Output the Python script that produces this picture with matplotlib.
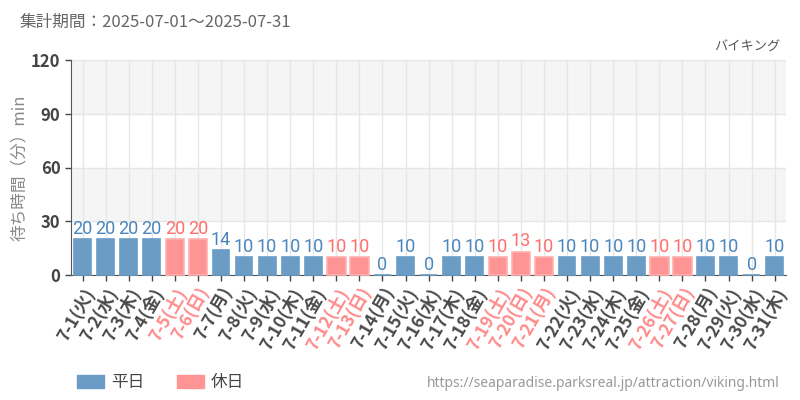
import numpy as np
import matplotlib
matplotlib.use("Agg")
import matplotlib.pyplot as plt
from matplotlib.patches import Patch
from matplotlib import font_manager

plt.rcParams['font.family'] = ['Noto Sans CJK JP', 'DejaVu Sans']

# data
days = ['7-%d' % d for d in range(1, 32)]
weekdays = ['火', '水', '木', '金', '土', '日', '月'] * 5
weekdays = weekdays[:31]
waits = [20, 20, 20, 20, 20, 20, 14, 10, 10, 10, 10, 10, 10, 0, 10, 0,
         10, 10, 10, 13, 10, 10, 10, 10, 10, 10, 10, 10, 10, 0, 10]
holidays = ['7-5', '7-6', '7-12', '7-13', '7-19', '7-20', '7-21', '7-26', '7-27']

blue = '#6a9cc5'
blue_txt = '#4a86bd'
pink = '#ff9494'
pink_txt = '#ff6e6e'

# narrow font for the value labels, if there is one
names = set(f.name for f in font_manager.fontManager.ttflist)
num_font = 'Liberation Sans Narrow' if 'Liberation Sans Narrow' in names else 'Roboto'

fig = plt.figure(figsize=(8, 4), dpi=100)
ax = fig.add_axes([0.08875, 0.3125, 0.894, 0.5375])

x = np.arange(len(days))
is_hol = np.array([d in holidays for d in days])
vals = np.array(waits)

# background bands
for lo, hi in [(30, 60), (90, 120)]:
    ax.axhspan(lo, hi, color='#f5f5f5', zorder=0, lw=0)
ax.set_yticks([0, 30, 60, 90, 120])
ax.grid(True, color='#e6e6e6', lw=1, zorder=1)
ax.set_axisbelow(True)

b1 = ax.bar(x[~is_hol], vals[~is_hol], width=0.73, color=blue,
            edgecolor=blue, lw=1.2, zorder=3, clip_on=False)
b2 = ax.bar(x[is_hol], vals[is_hol], width=0.8, color=pink,
            edgecolor='#ffb0b0', lw=1.2, zorder=3, clip_on=False)
ax.bar_label(b1, padding=1, color=blue_txt, fontsize=13, family=num_font)
ax.bar_label(b2, padding=1, color=pink_txt, fontsize=13, family=num_font)

ax.set_xlim(-0.5, len(days) - 0.5)
ax.set_ylim(0, 120)
ax.set_xticks(x)
labels = ['%s(%s)' % (d, w) for d, w in zip(days, weekdays)]
ax.set_xticklabels(labels, rotation=60, ha='right', rotation_mode='anchor',
                   fontsize=12.5, fontweight='bold')
for lab, h in zip(ax.get_xticklabels(), is_hol):
    lab.set_color('#ff8a8a' if h else '#4a4a4a')
for lab in ax.get_yticklabels():
    lab.set_fontsize(12)
    lab.set_fontweight('bold')
    lab.set_color('#444444')
ax.tick_params(axis='both', length=4, color='#444444', width=1)
ax.tick_params(axis='x', pad=3)

for s in ['top', 'right']:
    ax.spines[s].set_visible(False)
ax.spines['left'].set_color('#555555')
ax.spines['bottom'].set_color('#555555')

ax.set_ylabel('待ち時間（分）min', color='#888888', fontsize=12, labelpad=2)

fig.text(0.025, 0.945, '集計期間：2025-07-01～2025-07-31', color='#666666',
         fontsize=12, va='center')
fig.text(0.975, 0.882, 'バイキング', color='#555555', fontsize=9.5,
         ha='right', va='center')
fig.text(0.975, 0.042, 'https://seaparadise.parksreal.jp/attraction/viking.html',
         color='#999999', fontsize=10, ha='right', va='center',
         family=['Noto Sans', 'DejaVu Sans'])

handles = [Patch(color=blue, label='平日'), Patch(color=pink, label='休日')]
fig.legend(handles=handles, loc='center left', bbox_to_anchor=(0.078, 0.043),
           ncol=2, frameon=False, fontsize=12, handlelength=1.6,
           handleheight=0.9, columnspacing=2.0, handletextpad=0.4,
           labelcolor='#444444')

fig.savefig('out.png', dpi=100)
